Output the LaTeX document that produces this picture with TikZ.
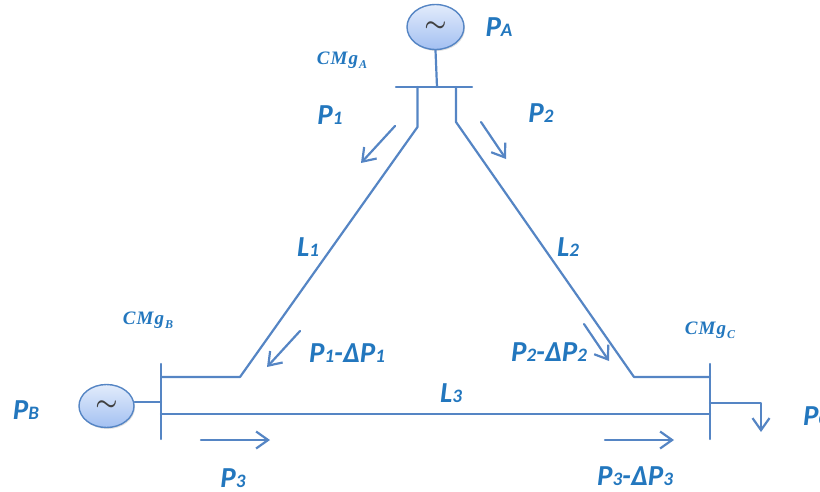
\documentclass[tikz,border=0pt]{standalone}
\usepackage{fontspec}
\setmainfont{Carlito}
\newfontfamily\costfont{Liberation Serif}
\usetikzlibrary{arrows.meta,shadows,shapes.geometric}
\definecolor{linecol}{HTML}{5585C4}
\definecolor{textcol}{HTML}{2377BE}
\definecolor{gentop}{HTML}{E2EBFB}
\definecolor{genbot}{HTML}{A3C0F2}
\newcommand{\flowlbl}[2]{#1{\fontsize{19}{19}\selectfont #2}}
\newcommand{\costlbl}[1]{{\costfont\bfseries\itshape\fontsize{19}{19}\selectfont C\kern1.2pt M\kern1.2pt g\kern1pt\raisebox{-4pt}{\fontsize{12}{12}\selectfont #1}}}
\tikzset{
	wire/.style={draw=linecol,line width=2.2pt},
	flow/.style={wire,->},
	gen/.style={ellipse,draw=linecol,line width=1.4pt,top color=gentop,bottom color=genbot,drop shadow={opacity=0.25,shadow xshift=1pt,shadow yshift=-1.5pt},inner sep=0pt,text=black!75,font=\fontsize{24}{24}\selectfont\boldmath},
	lbl/.style={text=textcol,inner sep=0pt,font=\fontsize{29}{29}\selectfont\bfseries\itshape},
	cost/.style={text=textcol,inner sep=0pt},
}
\begin{document}
\begin{tikzpicture}[x=1pt,y=-1pt,>={Straight Barb[length=12pt,width=17pt]},line join=round,line cap=round]
	\useasboundingbox (0,0) rectangle (820,491);
	% generators
	\node[gen,minimum width=57pt,minimum height=45pt] (genA) at (435.5,27) {$\sim$};
	\node[gen,minimum width=55pt,minimum height=43pt] (genB) at (106.5,406) {$\sim$};
	% buses
	\coordinate (busAl) at (396,87);
	\coordinate (busAr) at (472,87);
	\coordinate (busBt) at (161,364);
	\coordinate (busBb) at (161,439);
	\coordinate (busCt) at (710,364);
	\coordinate (busCb) at (710,439);
	\draw[wire] (busAl) -- (busAr);
	\draw[wire] (busBt) -- (busBb);
	\draw[wire] (busCt) -- (busCb);
	% generators to buses
	\coordinate (tapA) at (437,87);
	\coordinate (tapB) at (161,402);
	\draw[wire] (genA.south) -- (tapA);
	\draw[wire] (genB.east |- tapB) -- (tapB);
	% lines
	\coordinate (a1) at (417.5,87);
	\coordinate (a2) at (417.5,127);
	\coordinate (b1) at (240,377);
	\coordinate (b2) at (162,377);
	\coordinate (c1) at (456,87);
	\coordinate (c2) at (456,122);
	\coordinate (d1) at (634,377);
	\coordinate (d2) at (710,377);
	\coordinate (e1) at (161,414);
	\coordinate (e2) at (710,414);
	\draw[wire] (a1) -- (a2) -- (b1) -- (b2);
	\draw[wire] (c1) -- (c2) -- (d1) -- (d2);
	\draw[wire] (e1) -- (e2);
	% load
	\coordinate (loadS) at (710,403);
	\coordinate (loadK) at (761,403);
	\coordinate (loadE) at (761,432);
	\draw[flow] (loadS) -- (loadK) -- (loadE);
	% flows
	\coordinate (f1s) at (395,126);
	\coordinate (f1e) at (361,163);
	\coordinate (f2s) at (481,122);
	\coordinate (f2e) at (506,159);
	\coordinate (f3s) at (300,331);
	\coordinate (f3e) at (267,367);
	\coordinate (f4s) at (584,324);
	\coordinate (f4e) at (609,361);
	\coordinate (f5s) at (201,440);
	\coordinate (f5e) at (270,440);
	\coordinate (f6s) at (605,440);
	\coordinate (f6e) at (674,440);
	\foreach \i in {1,...,6}{
		\draw[flow] (f\i s) -- (f\i e);
	}
	% labels
	\node[lbl] (lblPA) at (499,27) {\flowlbl{P}{A}};
	\node[lbl] (lblPB) at (26,410) {\flowlbl{P}{B}};
	\node[lbl,anchor=west] (lblPC) at (803,416) {\flowlbl{P}{C}};
	\node[lbl] (lblP1) at (330,115) {\flowlbl{P}{1}};
	\node[lbl] (lblP2) at (541,113) {\flowlbl{P}{2}};
	\node[lbl] (lblP3) at (233,478) {\flowlbl{P}{3}};
	\node[lbl] (lblL1) at (308,247) {\flowlbl{L}{1}};
	\node[lbl] (lblL2) at (568,247) {\flowlbl{L}{2}};
	\node[lbl] (lblL3) at (451,393) {\flowlbl{L}{3}};
	\node[lbl] (lblD1) at (347,353) {\flowlbl{P}{1}-Δ\flowlbl{P}{1}};
	\node[lbl] (lblD2) at (549,352) {\flowlbl{P}{2}-Δ\flowlbl{P}{2}};
	\node[lbl] (lblD3) at (635,476) {\flowlbl{P}{3}-Δ\flowlbl{P}{3}};
	\node[cost] (costA) at (342,60) {\costlbl{A}};
	\node[cost] (costB) at (148,320) {\costlbl{B}};
	\node[cost] (costC) at (710,330) {\costlbl{C}};
\end{tikzpicture}
\end{document}
